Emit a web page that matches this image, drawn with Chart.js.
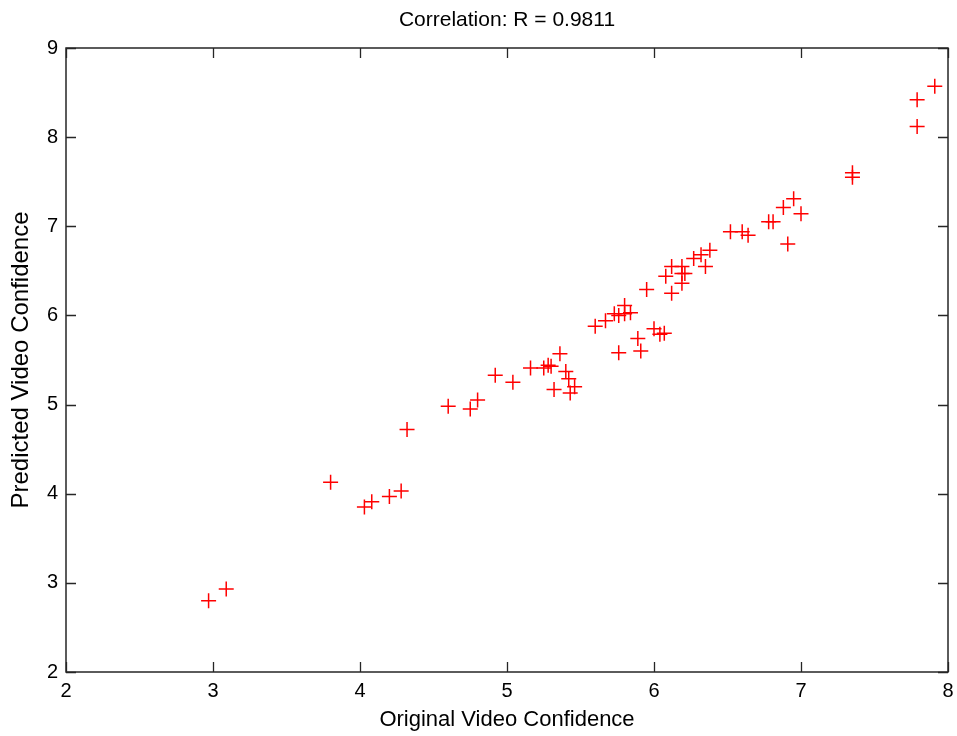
<!DOCTYPE html>
<html>
<head>
<meta charset="utf-8">
<script src="https://cdn.jsdelivr.net/npm/chart.js@4/dist/chart.umd.min.js"></script>
<style>
html,body{margin:0;padding:0;background:#fff;}
#wrap{width:957px;height:736px;position:relative;}
</style>
</head>
<body>
<div id="wrap"><canvas id="c" width="957" height="736"></canvas></div>
<script>
const titleText = "Correlation: R = 0.9811";
const xAxisLabel = "Original Video Confidence";
const yAxisLabel = "Predicted Video Confidence";
const xTicks = [2, 3, 4, 5, 6, 7, 8];
const yTicks = [2, 3, 4, 5, 6, 7, 8, 9];

const originalConfidence = [
  2.97, 3.09, 3.80, 4.03, 4.08, 4.20, 4.28, 4.32, 4.60, 4.75,
  4.80, 4.92, 5.04, 5.16, 5.25, 5.28, 5.30, 5.36, 5.40, 5.42,
  5.32, 5.46, 5.43, 5.60, 5.67, 5.73, 5.76, 5.80, 5.80, 5.84,
  5.76, 5.89, 5.91, 6.00, 6.04, 6.07, 5.95, 6.08, 6.12, 6.12,
  6.19, 6.19, 6.19, 6.21, 6.27, 6.32, 6.35, 6.38, 6.52, 6.60,
  6.64, 6.78, 6.81, 6.88, 6.95, 7.00, 6.91, 7.35, 7.35, 7.79,
  7.79, 7.91
];
const predictedConfidence = [
  2.80, 2.93, 4.13, 3.85, 3.91, 3.97, 4.03, 4.72, 4.98, 4.95,
  5.05, 5.33, 5.25, 5.41, 5.41, 5.44, 5.43, 5.57, 5.37, 5.29,
  5.17, 5.20, 5.13, 5.88, 5.94, 6.02, 6.00, 6.11, 6.02, 6.03,
  5.58, 5.74, 5.60, 5.85, 5.79, 5.80, 6.29, 6.44, 6.55, 6.25,
  6.36, 6.55, 6.47, 6.47, 6.64, 6.68, 6.55, 6.73, 6.94, 6.94,
  6.90, 7.05, 7.05, 7.21, 7.31, 7.14, 6.80, 7.60, 7.55, 8.12,
  8.42, 8.57
];

const points = originalConfidence.map((x, i) => ({x: x, y: predictedConfidence[i]}));
const FONT = "'Liberation Sans', Arial, sans-serif";
const AXIS_COLOR = '#262626';

const boxTicks = {
  id: 'boxTicks',
  afterDraw(chart) {
    const {ctx, chartArea: a, scales} = chart;
    const xs = scales.x, ys = scales.y;
    const len = 10;
    ctx.save();
    ctx.strokeStyle = AXIS_COLOR;
    ctx.lineWidth = 1.3;
    ctx.beginPath();
    xTicks.forEach(v => {
      const px = Math.round(xs.getPixelForValue(v)) + 0.5;
      ctx.moveTo(px, a.bottom); ctx.lineTo(px, a.bottom - len);
      ctx.moveTo(px, a.top); ctx.lineTo(px, a.top + len);
    });
    yTicks.forEach(v => {
      const py = Math.round(ys.getPixelForValue(v)) + 0.5;
      ctx.moveTo(a.left, py); ctx.lineTo(a.left + len, py);
      ctx.moveTo(a.right, py); ctx.lineTo(a.right - len, py);
    });
    ctx.stroke();
    ctx.lineWidth = 1.5;
    ctx.strokeRect(a.left, a.top, a.right - a.left, a.bottom - a.top);
    ctx.restore();
  }
};

function noHPad(s) { s.paddingLeft = 0; s.paddingRight = 0; }
function noVPad(s) { s.paddingTop = 0; s.paddingBottom = 0; }

new Chart(document.getElementById('c'), {
  type: 'scatter',
  data: {
    datasets: [{
      data: points,
      pointStyle: 'cross',
      pointRadius: 7.5,
      pointHoverRadius: 7.5,
      pointBorderWidth: 1.5,
      pointHoverBorderWidth: 1.5,
      borderColor: '#ff0000',
      backgroundColor: '#ff0000',
      showLine: false
    }]
  },
  options: {
    responsive: false,
    animation: false,
    events: [],
    layout: {padding: {left: 0, right: 9, top: 0, bottom: 0}},
    plugins: {
      legend: {display: false},
      tooltip: {enabled: false},
      title: {display: false}
    },
    scales: {
      xTop: {
        type: 'linear',
        position: 'top',
        min: 2, max: 8,
        afterFit(s) { s.height = 48; noHPad(s); },
        grid: {display: false, drawTicks: false},
        border: {display: false},
        ticks: {display: false},
        title: {
          display: true, text: titleText, color: '#000',
          font: {family: FONT, size: 21, lineHeight: 1.2},
          padding: {top: 7.5, bottom: 0}
        }
      },
      x: {
        type: 'linear',
        position: 'bottom',
        min: 2, max: 8,
        afterBuildTicks(s) { s.ticks = xTicks.map(v => ({value: v})); },
        afterFit(s) { s.height = 64; noHPad(s); },
        grid: {display: false, drawTicks: false},
        border: {display: false},
        ticks: {
          color: '#000', padding: 7, autoSkip: false, maxRotation: 0,
          font: {family: FONT, size: 20},
          callback: v => String(v)
        },
        title: {
          display: true, text: xAxisLabel, color: '#000',
          font: {family: FONT, size: 22, lineHeight: 1.2},
          padding: {top: 0, bottom: 3}
        }
      },
      y: {
        type: 'linear',
        min: 2, max: 9,
        afterBuildTicks(s) { s.ticks = yTicks.map(v => ({value: v})); },
        afterFit(s) { s.width = 66; noVPad(s); },
        grid: {display: false, drawTicks: false},
        border: {display: false},
        ticks: {
          color: '#000', padding: 8, autoSkip: false,
          font: {family: FONT, size: 20},
          callback: v => String(v)
        },
        title: {
          display: true, text: yAxisLabel, color: '#000',
          font: {family: FONT, size: 24, lineHeight: 1.2},
          padding: {top: 7, bottom: 0}
        }
      }
    }
  },
  plugins: [boxTicks]
});
</script>
</body>
</html>
